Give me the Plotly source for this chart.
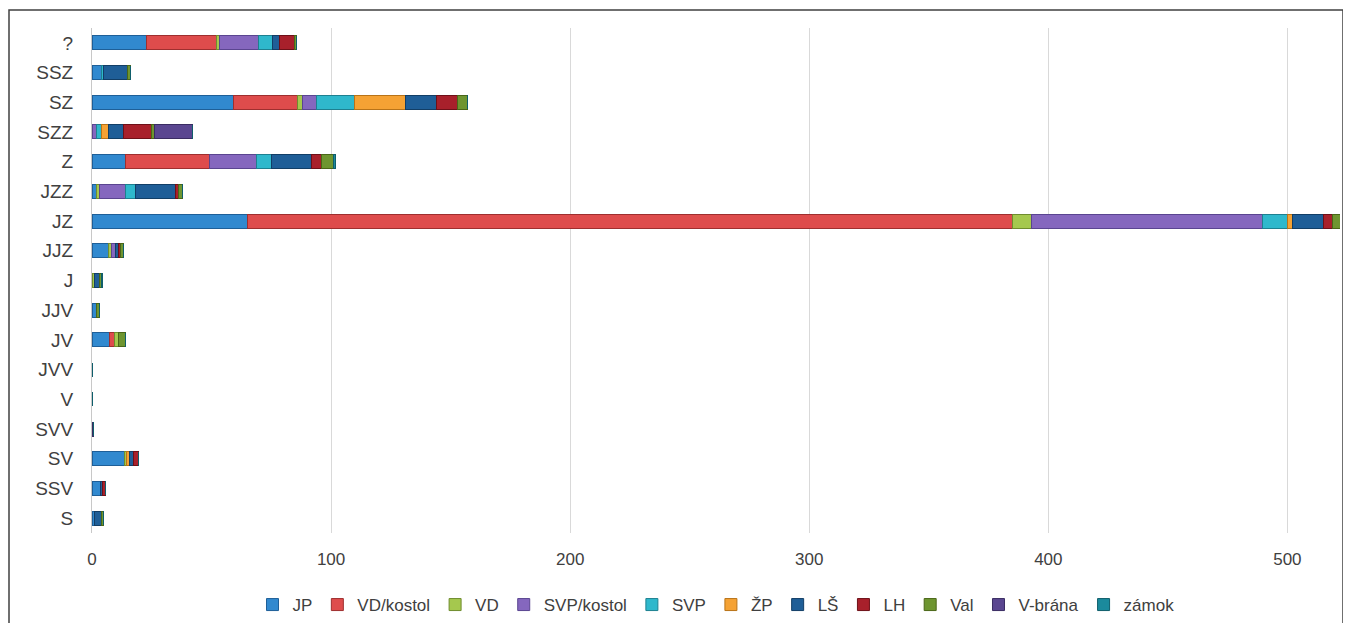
import plotly.graph_objects as go

categories = ["?", "SSZ", "SZ", "SZZ", "Z", "JZZ", "JZ", "JJZ", "J", "JJV", "JV", "JVV", "V", "SVV", "SV", "SSV", "S"]

JP         = [23, 4, 59, 0, 14, 2, 65, 7, 0, 2, 7.5, 0, 0, 0, 13.5, 3.5, 1]
VD_kostol  = [29, 0, 27, 0, 35, 0, 320, 0, 0, 0, 2, 0, 0, 0, 0, 0, 0]
VD         = [1.5, 0, 2, 0, 0, 1, 8, 1, 1, 0, 1.5, 0, 0, 0, 1, 0, 0]
SVP_kostol = [16, 0, 6, 2, 20, 11, 96.5, 2, 0, 0, 0, 0, 0, 0, 0, 0, 0]
SVP        = [6, 1, 16, 2, 6, 4, 10.5, 0, 0, 0, 0, 0, 0, 0, 0, 0, 0]
ZP         = [0, 0, 21, 3, 0, 0, 2, 0, 0, 0, 0, 0, 0, 0, 1, 0, 0]
LS         = [3, 10, 13, 6, 17, 17, 13, 1, 2, 0, 0, 0, 0, 0, 2, 1, 3]
LH         = [6, 0, 9, 12, 4, 1, 4, 1, 0, 0, 0, 0, 0, 0, 2, 1, 0]
Val        = [1, 1, 4, 1, 5, 2, 3, 1, 1, 1, 3, 0, 0, 0, 0, 0, 0.6]
V_brana    = [0, 0, 0, 16, 0, 0, 0, 0, 0, 0, 0, 0, 0, 0.5, 0, 0, 0]
zamok      = [0, 0, 0, 0, 1, 0, 0, 0, 0.5, 0, 0, 0, 0, 0, 0, 0, 0]

series_names = ["JP", "VD/kostol", "VD", "SVP/kostol", "SVP", "ŽP", "LŠ", "LH", "Val", "V-brána", "zámok"]
series_values = [JP, VD_kostol, VD, SVP_kostol, SVP, ZP, LS, LH, Val, V_brana, zamok]
colors = ["#3189CF", "#DE4C4C", "#A5C84E", "#8567BE", "#2FB8CC", "#F5A234", "#1F5E97", "#A8202B", "#6E9530", "#5A4690", "#1B8A9C"]
line_colors = ["#1E5F98", "#9E2F2F", "#6F8C2E", "#5A4590", "#1E8090", "#B87318", "#123E66", "#6E1018", "#4A6618", "#3A2C62", "#0F5E6B"]

fig = go.Figure()
for name, vals, c, lc in zip(series_names, series_values, colors, line_colors):
    fig.add_trace(go.Bar(
        y=categories, x=vals, name=name, orientation="h",
        marker=dict(color=c, line=dict(color=lc, width=1)),
    ))

# figure is placed 8px from page corner by the browser's body margin
W, H = 1343, 615
L, R, T, B = 84, 11, 20, 90
pw = W - L - R
ph = H - T - B

fig.update_layout(
    width=W, height=H,
    barmode="stack", bargap=0.53,
    margin=dict(l=L, r=R, t=T, b=B, pad=0, autoexpand=False),
    plot_bgcolor="white", paper_bgcolor="white",
    font=dict(family="Liberation Sans, Arial, sans-serif", color="#404040"),
    xaxis=dict(range=[0, 522], tickvals=[0, 100, 200, 300, 400, 500],
               showgrid=True, gridcolor="#D9D9D9", gridwidth=1,
               zeroline=False, showline=False, ticks="",
               tickfont=dict(size=17, color="#404040"), ticklabelstandoff=14),
    yaxis=dict(categoryorder="array", categoryarray=categories[::-1],
               showline=True, linecolor="#C8C8C8", linewidth=1,
               ticks="", showgrid=False,
               tickfont=dict(size=19, color="#404040"), ticklabelstandoff=14),
    legend=dict(orientation="h", x=0.5, xanchor="center",
                y=-(597 - (T + ph)) / ph, yanchor="middle",
                font=dict(size=17, color="#404040",
                          family="Liberation Sans Narrow, Liberation Sans, Arial, sans-serif"),
                traceorder="normal", itemwidth=30),
    shapes=[dict(type="rect", xref="paper", yref="paper",
                 x0=(1 - L) / pw, x1=(1335 - L) / pw,
                 y0=(T + ph - 640) / ph, y1=(T + ph - 2) / ph,
                 line=dict(color="#404040", width=1.5), fillcolor="rgba(0,0,0,0)",
                 layer="below")],
    showlegend=True,
)

fig.write_html("out.html")
